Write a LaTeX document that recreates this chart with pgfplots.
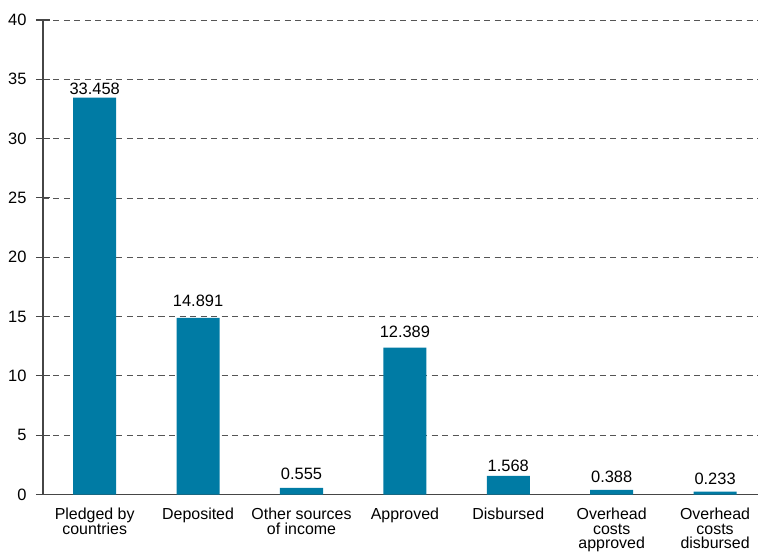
\documentclass[border=0pt]{standalone}
\usepackage{pgfplots}
\pgfplotsset{compat=1.18}
\usepackage{pgfplotstable}
\usepackage{fontspec}
\setmainfont{Liberation Sans}
\definecolor{barblue}{RGB}{0,123,164}
\definecolor{axisgray}{RGB}{70,70,70}
\definecolor{gridgray}{RGB}{85,85,85}
\pgfplotstableread{
x y label off
0 33.458 33.458 -0.4
1 14.891 14.891 8
2 0.555 0.555 5
3 12.389 12.389 7
4 1.568 1.568 1
5 0.388 0.388 4
6 0.233 0.233 4
}\datatable
\begin{document}
\begin{tikzpicture}
\path[use as bounding box] (-43bp,-57.5bp) rectangle (716bp,494.5bp);
\begin{axis}[
  scale only axis,
  width=715.2bp, height=474.5bp,
  xmin=-0.5, xmax=6.417, ymin=0, ymax=40,
  axis x line=bottom, axis y line=left,
  axis line style={-, draw=axisgray, line width=1.1bp},
  ytick={0,5,...,40},
  xtick={0,...,6},
  xticklabels={{Pledged by\\countries},{Deposited},{Other sources\\of income},{Approved},{Disbursed},{Overhead\\costs\\approved},{Overhead\\costs\\disbursed}},
  x tick style={draw=none},
  y tick style={draw=axisgray, line width=1.1bp},
  ytick align=center,
  major tick length=14bp,
  extra x ticks={-0.5,0.5,1.5,2.5,3.5,4.5,5.5},
  extra x tick labels={},
  extra x tick style={grid=none, tick align=outside, major tick length=7bp, tick style={draw=axisgray, line width=1.1bp}},
  ymajorgrids,
  grid style={draw=gridgray, line width=0.8bp, dash pattern=on 6bp off 4.5bp},
  /pgf/number format/assume math mode=true,
  ticklabel style={font=\fontsize{16.5}{15}\selectfont},
  xticklabel style={align=center, anchor=north, yshift=4.5bp, font=\fontsize{16}{15}\selectfont},
  yticklabel style={xshift=-6bp},
  ybar, bar width=0.416,
  nodes near coords,
  point meta=explicit symbolic,
  visualization depends on={\thisrow{off} \as \myoff},
  nodes near coords style={font=\fontsize{16.5}{15}\selectfont, inner sep=3bp, anchor=south, text=black, yshift=\myoff bp},
  clip=false,
]
\addplot[fill=barblue, draw=none] table[x=x, y=y, meta=label] {\datatable};
\end{axis}
\end{tikzpicture}
\end{document}
